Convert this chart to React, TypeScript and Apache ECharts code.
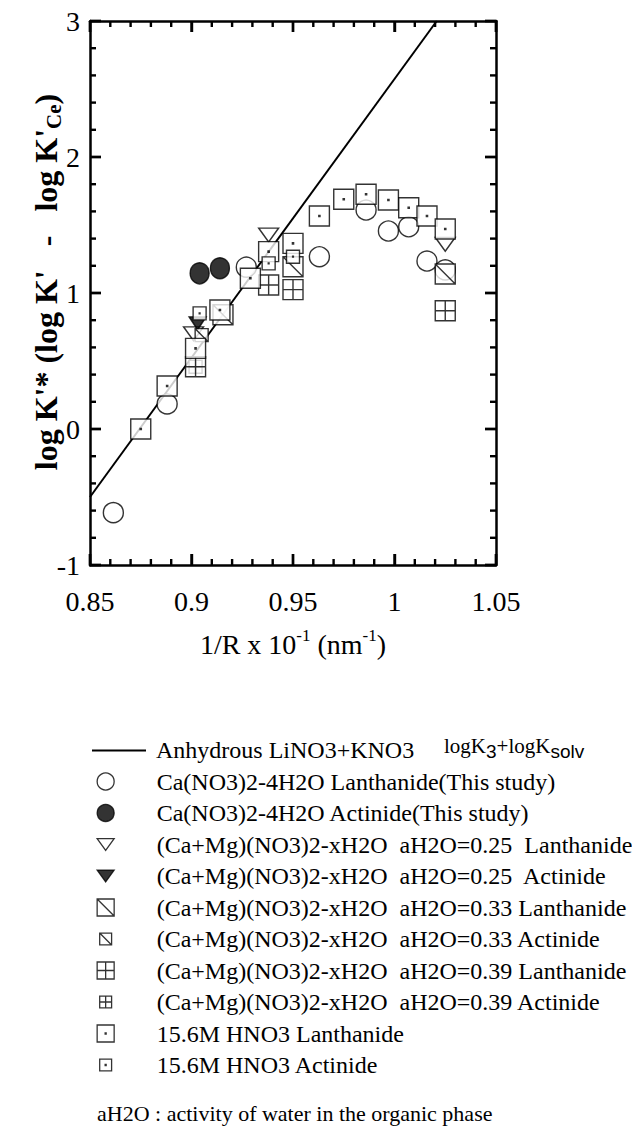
import React, { useEffect, useRef } from "react";
import * as echarts from "echarts";

const FONT = "'Liberation Serif', 'Times New Roman', Times, serif";

// axis ranges / ticks
const X_RANGE = [0.85, 1.05];
const X_STEP = 0.05;
const Y_RANGE = [-1, 3];
const Y_STEP = 1;
const X_MAJOR_TICKS = [0.85, 0.9, 0.95, 1.0, 1.05];
const X_MINOR_TICKS = [0.86, 0.87, 0.88, 0.89, 0.91, 0.92, 0.93, 0.94, 0.96, 0.97, 0.98, 0.99, 1.01, 1.02, 1.03, 1.04];
const Y_MAJOR_TICKS = [-1, 0, 1, 2, 3];
const Y_MINOR_TICKS = [-0.8, -0.6, -0.4, -0.2, 0.2, 0.4, 0.6, 0.8, 1.2, 1.4, 1.6, 1.8, 2.2, 2.4, 2.6, 2.8];

// Anhydrous LiNO3+KNO3 (logK3 + logKsolv) line
const LINE_X = [0.85, 1.0208];
const LINE_Y = [-0.5, 3.0];

// Ca(NO3)2-4H2O Lanthanide (This study)
const CA_LN_X = [0.8615, 0.888, 0.927, 0.963, 0.986, 0.997, 1.007, 1.016, 1.025];
const CA_LN_Y = [-0.615, 0.184, 1.19, 1.267, 1.61, 1.456, 1.487, 1.235, 1.17];

// Ca(NO3)2-4H2O Actinide (This study)
const CA_AN_X = [0.904, 0.914];
const CA_AN_Y = [1.145, 1.182];

// (Ca+Mg)(NO3)2-xH2O aH2O=0.25
const A25_LN_X = [0.901, 0.938, 1.025];
const A25_LN_Y = [0.7, 1.426, 1.358];
const A25_AN_X = [0.903];
const A25_AN_Y = [0.777];

// aH2O=0.33
const A33_LN_X = [0.9155, 0.95, 1.025];
const A33_LN_Y = [0.84, 1.193, 1.14];
const A33_AN_X = [0.905];
const A33_AN_Y = [0.69];

// aH2O=0.39
const A39_LN_X = [0.902, 0.938, 0.95, 1.025];
const A39_LN_Y = [0.458, 1.059, 1.025, 0.87];
const A39_AN_X = [0.902];
const A39_AN_Y = [0.458];

// 15.6M HNO3
const HNO3_LN_X = [0.875, 0.888, 0.902, 0.914, 0.929, 0.938, 0.95, 0.963, 0.975, 0.986, 0.997, 1.007, 1.016, 1.025];
const HNO3_LN_Y = [0.0, 0.316, 0.593, 0.875, 1.108, 1.304, 1.365, 1.566, 1.689, 1.726, 1.684, 1.627, 1.566, 1.471];
const HNO3_AN_X = [0.904, 0.938, 0.95];
const HNO3_AN_Y = [0.85, 1.218, 1.267];

const NAMES = [
  "Anhydrous LiNO3+KNO3",
  "Ca(NO3)2-4H2O Lanthanide(This study)",
  "Ca(NO3)2-4H2O Actinide(This study)",
  "(Ca+Mg)(NO3)2-xH2O  aH2O=0.25  Lanthanide",
  "(Ca+Mg)(NO3)2-xH2O  aH2O=0.25  Actinide",
  "(Ca+Mg)(NO3)2-xH2O  aH2O=0.33 Lanthanide",
  "(Ca+Mg)(NO3)2-xH2O  aH2O=0.33 Actinide",
  "(Ca+Mg)(NO3)2-xH2O  aH2O=0.39 Lanthanide",
  "(Ca+Mg)(NO3)2-xH2O  aH2O=0.39 Actinide",
  "15.6M HNO3 Lanthanide",
  "15.6M HNO3 Actinide",
];

const SYM_TRI = "path://M0,0H20L10,14Z";
const SYM_DIAG = "path://M0,0H20V20H0ZM0,0L20,20";
const SYM_GRID = "path://M0,0H20V20H0ZM10,0V20M0,10H20";
const SYM_DOT = "path://M0,0H20V20H0ZM9.4,9.4H10.6V10.6H9.4Z";
const ICON_S_DIAG = "path://M0,0M20,20M3,3H17V17H3ZM3,3L17,17";
const ICON_S_GRID = "path://M0,0M20,20M3,3H17V17H3ZM10,3V17M3,10H17";
const ICON_S_DOT = "path://M0,0M20,20M3,3H17V17H3ZM9.4,9.4H10.6V10.6H9.4Z";
const ICON_LINE = "path://M0,0M54,17M0,7.9H54V9.9H0Z";

const MAJOR_LEN = 11;
const MINOR_LEN = 6;
const TICK_W = 2.4;

const zip = (xs: number[], ys: number[]) => xs.map((x, i) => [x, ys[i]]);

function sc(name: string, xs: number[], ys: number[], symbol: string, size: any, fill: string, z: number) {
  return {
    type: "scatter",
    name,
    symbol,
    symbolSize: size,
    clip: false,
    data: zip(xs, ys),
    itemStyle: { color: fill, borderColor: "#000", borderWidth: 1.4 },
    emphasis: { disabled: true },
    silent: true,
    z,
  };
}

// inward tick marks on all four sides, positioned through the axes' own scales
function xTickSeries(values: number[], len: number) {
  return {
    type: "custom",
    silent: true,
    clip: false,
    z: 20,
    data: values.map((v) => [v, Y_RANGE[0], len]),
    renderItem: (params: any, api: any) => {
      const x = api.value(0);
      const l = api.value(2);
      const b = api.coord([x, Y_RANGE[0]]);
      const t = api.coord([x, Y_RANGE[1]]);
      const st = { stroke: "#000", lineWidth: TICK_W };
      return {
        type: "group",
        children: [
          { type: "line", shape: { x1: b[0], y1: b[1], x2: b[0], y2: b[1] - l }, style: st },
          { type: "line", shape: { x1: t[0], y1: t[1], x2: t[0], y2: t[1] + l }, style: st },
        ],
      };
    },
  };
}

function yTickSeries(values: number[], len: number) {
  return {
    type: "custom",
    silent: true,
    clip: false,
    z: 20,
    data: values.map((v) => [X_RANGE[0], v, len]),
    renderItem: (params: any, api: any) => {
      const y = api.value(1);
      const l = api.value(2);
      const a = api.coord([X_RANGE[0], y]);
      const b = api.coord([X_RANGE[1], y]);
      const st = { stroke: "#000", lineWidth: TICK_W };
      return {
        type: "group",
        children: [
          { type: "line", shape: { x1: a[0], y1: a[1], x2: a[0] + l, y2: a[1] }, style: st },
          { type: "line", shape: { x1: b[0], y1: b[1], x2: b[0] - l, y2: b[1] }, style: st },
        ],
      };
    },
  };
}

function majorAxis(range: number[], step: number, position: string, extra: any) {
  return {
    type: "value",
    min: range[0],
    max: range[1],
    interval: step,
    position,
    axisLine: { show: true, onZero: false, lineStyle: { color: "#000", width: 2.5 } },
    axisTick: { show: true, inside: true, length: MAJOR_LEN, lineStyle: { color: "#000", width: TICK_W } },
    splitLine: { show: false },
    ...extra,
  };
}

const fmt = (v: number) => String(parseFloat(v.toFixed(2)));

const option: any = {
  animation: false,
  textStyle: { fontFamily: FONT },
  grid: { left: 90, right: 136, top: 21, bottom: 561 },
  xAxis: [
    majorAxis(X_RANGE, X_STEP, "bottom", {
      axisLabel: { fontFamily: FONT, fontSize: 28, color: "#000", margin: 22, formatter: fmt },
      name: "1/R x 10{sup|-1} (nm{sup|-1})",
      nameLocation: "middle",
      nameGap: 62,
      nameMoveOverlap: false,
      nameTextStyle: {
        fontFamily: FONT,
        fontSize: 28,
        color: "#000",
        lineHeight: 34,
        rich: { sup: { fontSize: 17, verticalAlign: "top", lineHeight: 17 } },
      },
    }),
    majorAxis(X_RANGE, X_STEP, "top", { axisLabel: { show: false } }),
  ],
  yAxis: [
    majorAxis(Y_RANGE, Y_STEP, "left", {
      axisLabel: { fontFamily: FONT, fontSize: 28, color: "#000", margin: 10, formatter: fmt },
      name: "log K'* (log K'   -   log K'{sub|Ce})",
      nameLocation: "middle",
      nameGap: 26,
      nameMoveOverlap: false,
      nameTextStyle: {
        fontFamily: FONT,
        fontSize: 32,
        fontWeight: "bold",
        color: "#000",
        lineHeight: 36,
        padding: [0, 0, 0, 22],
        rich: { sub: { fontSize: 21, verticalAlign: "bottom", lineHeight: 21 } },
      },
    }),
    majorAxis(Y_RANGE, Y_STEP, "right", { axisLabel: { show: false } }),
  ],
  legend: [
    {
      data: [{ name: NAMES[0], icon: ICON_LINE }],
      orient: "vertical",
      left: 92,
      top: 738,
      padding: 0,
      itemWidth: 54,
      itemHeight: 17,
      selectedMode: false,
      itemStyle: { color: "#000", borderWidth: 0 },
      formatter: (n: string) => `{g| }${n}`,
      textStyle: { fontFamily: FONT, fontSize: 24, color: "#000", lineHeight: 24, rich: { g: { width: 5 } } },
    },
    {
      data: [
        { name: NAMES[1] },
        { name: NAMES[2] },
        { name: NAMES[3] },
        { name: NAMES[4] },
        { name: NAMES[5] },
        { name: NAMES[6], icon: ICON_S_DIAG },
        { name: NAMES[7] },
        { name: NAMES[8], icon: ICON_S_GRID },
        { name: NAMES[9] },
        { name: NAMES[10], icon: ICON_S_DOT },
      ],
      orient: "vertical",
      left: 96.5,
      top: 769.5,
      padding: 0,
      itemWidth: 17,
      itemHeight: 17,
      itemGap: 7.5,
      selectedMode: false,
      itemStyle: { borderWidth: 1.3 },
      formatter: (n: string) => `{g| }${n}`,
      textStyle: { fontFamily: FONT, fontSize: 24, color: "#000", lineHeight: 24, rich: { g: { width: 37.5 } } },
    },
  ],
  graphic: [
    {
      type: "text",
      left: 444,
      top: 731,
      style: {
        text: "logK{s|3}+logK{s|solv}",
        fontFamily: FONT,
        fontSize: 21,
        lineHeight: 30,
        fill: "#000",
        rich: { s: { fontSize: 19, verticalAlign: "bottom", lineHeight: 19 } },
      },
    },
    {
      type: "text",
      left: 97,
      top: 1102,
      style: { text: "aH2O : activity of water in the organic phase", fontFamily: FONT, fontSize: 22, fill: "#000" },
    },
  ],
  series: [
    {
      type: "line",
      name: NAMES[0],
      data: zip(LINE_X, LINE_Y),
      symbol: "none",
      clip: false,
      lineStyle: { color: "#000", width: 2 },
      silent: true,
      emphasis: { disabled: true },
      z: 2,
    },
    sc(NAMES[1], CA_LN_X, CA_LN_Y, "circle", 20, "#fff", 3),
    sc(NAMES[2], CA_AN_X, CA_AN_Y, "circle", [19, 21], "#000", 4),
    sc(NAMES[3], A25_LN_X, A25_LN_Y, SYM_TRI, [20, 14], "#fff", 5),
    sc(NAMES[4], A25_AN_X, A25_AN_Y, SYM_TRI, [17, 13], "#000", 6),
    sc(NAMES[5], A33_LN_X, A33_LN_Y, SYM_DIAG, 20, "#fff", 7),
    sc(NAMES[6], A33_AN_X, A33_AN_Y, SYM_DIAG, 13, "#fff", 8),
    sc(NAMES[8], A39_AN_X, A39_AN_Y, SYM_GRID, 13, "#fff", 9),
    sc(NAMES[7], A39_LN_X, A39_LN_Y, SYM_GRID, 20, "#fff", 10),
    sc(NAMES[9], HNO3_LN_X, HNO3_LN_Y, SYM_DOT, 20, "#fff", 11),
    sc(NAMES[10], HNO3_AN_X, HNO3_AN_Y, SYM_DOT, 13, "#fff", 12),
    xTickSeries(X_MAJOR_TICKS, MAJOR_LEN),
    xTickSeries(X_MINOR_TICKS, MINOR_LEN),
    yTickSeries(Y_MAJOR_TICKS, MAJOR_LEN),
    yTickSeries(Y_MINOR_TICKS, MINOR_LEN),
  ],
};

export default function App() {
  const ref = useRef<HTMLDivElement>(null);
  useEffect(() => {
    document.body.style.margin = "0";
    const chart = echarts.init(ref.current!, null, { renderer: "svg" });
    chart.setOption(option);
    return () => chart.dispose();
  }, []);
  return <div ref={ref} style={{ width: 632, height: 1126, background: "#fff" }} />;
}
